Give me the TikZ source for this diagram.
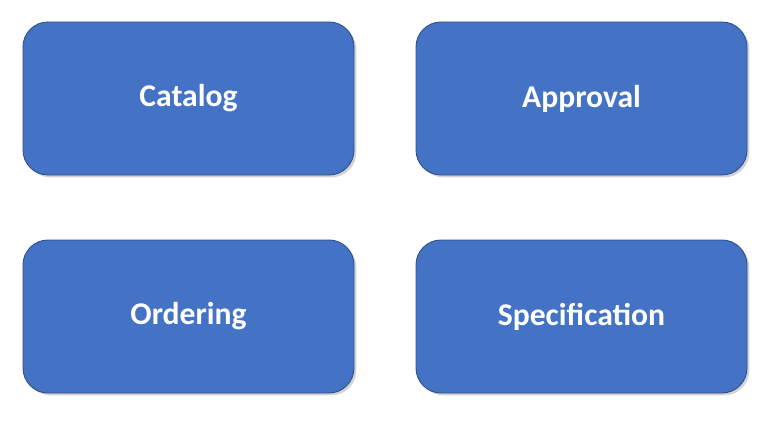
\documentclass[tikz,border=0pt]{standalone}
\usepackage{fontspec}
\setmainfont{Carlito}
\usetikzlibrary{shadows}
\definecolor{boxblue}{HTML}{4472C4}
\definecolor{boxline}{HTML}{2F528F}
\begin{document}
\begin{tikzpicture}[x=0.03cm,y=-0.03cm,
  box/.style={draw=boxline,line width=0.8pt,fill=boxblue,rounded corners=0.75cm,
    minimum width=331*0.03cm,minimum height=153*0.03cm,text=white,
    font=\fontsize{27}{30}\selectfont\bfseries,
    drop shadow={shadow xshift=2pt,shadow yshift=-2pt,opacity=0.35}}]
\useasboundingbox (0,0) rectangle (769,424);
\node[box] (cat) at (188.5,98.5) {Catalog};
\node[box] (app) at (581.5,98.5) {Approval};
\node[box] (ord) at (188.5,316.5) {Ordering};
\node[box] (spec) at (581.5,316.5) {Specification};
\end{tikzpicture}
\end{document}
